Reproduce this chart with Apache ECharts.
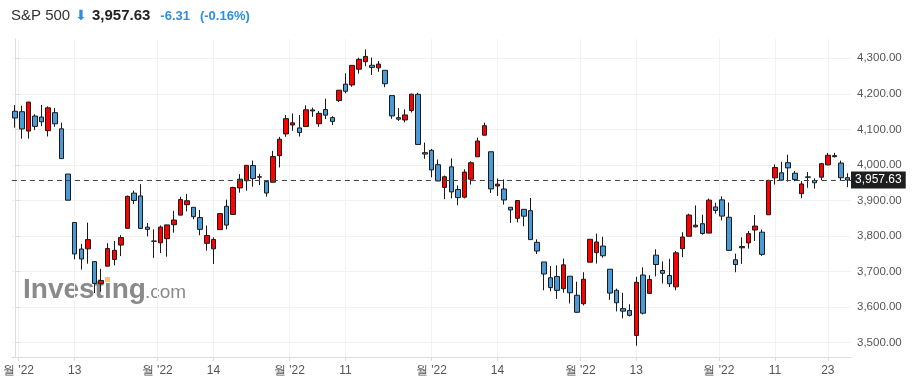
<!DOCTYPE html>
<html><head><meta charset="utf-8">
<script src="https://cdn.jsdelivr.net/npm/echarts@6/dist/echarts.min.js"></script>
<style>html,body{margin:0;padding:0;background:#fff}#c{width:913px;height:383px}</style>
</head><body><div id="c"></div>
<script>
// S&P 500 daily candles, 2022-05-31 .. 2022-11-29
const dates = ["05-31","06-01","06-02","06-03","06-06","06-07","06-08","06-09","06-10","06-13","06-14","06-15","06-16","06-17","06-21","06-22","06-23","06-24","06-27","06-28","06-29","06-30","07-01",
"07-05","07-06","07-07","07-08","07-11","07-12","07-13","07-14","07-15","07-18","07-19","07-20","07-21","07-22","07-25","07-26","07-27","07-28","07-29",
"08-01","08-02","08-03","08-04","08-05","08-08","08-09","08-10","08-11","08-12","08-15","08-16","08-17","08-18","08-19","08-22","08-23","08-24","08-25","08-26","08-29","08-30","08-31",
"09-01","09-02","09-06","09-07","09-08","09-09","09-12","09-13","09-14","09-15","09-16","09-19","09-20","09-21","09-22","09-23","09-26","09-27","09-28","09-29","09-30",
"10-03","10-04","10-05","10-06","10-07","10-10","10-11","10-12","10-13","10-14","10-17","10-18","10-19","10-20","10-21","10-24","10-25","10-26","10-27","10-28","10-31",
"11-01","11-02","11-03","11-04","11-07","11-08","11-09","11-10","11-11","11-14","11-15","11-16","11-17","11-18","11-21","11-22","11-23","11-25","11-28","11-29"];

const open = [4151.09,4149.78,4095.41,4137.57,4134.72,4096.47,4147.12,4101.65,3974.39,3838.15,3763.52,3764.05,3728.18,3665.90,3715.31,3733.89,3774.71,3821.75,3920.76,3913.00,3825.09,3785.99,3781.00,
3792.61,3831.98,3858.85,3888.26,3880.94,3851.95,3779.67,3763.99,3818.00,3883.79,3860.73,3935.32,3955.47,3998.43,3965.72,3953.22,3951.43,4026.13,4087.33,
4112.38,4104.21,4107.96,4154.85,4115.87,4155.93,4133.11,4181.02,4227.40,4225.02,4269.37,4290.46,4280.40,4273.13,4266.31,4195.08,4133.09,4126.55,4153.26,4198.74,4034.58,4041.25,4000.67,
3936.73,3994.66,3930.89,3909.43,3959.94,4022.94,4083.67,4037.12,3940.73,3932.41,3880.95,3849.91,3875.23,3871.40,3782.36,3727.14,3682.72,3686.44,3651.94,3687.01,3633.48,
3609.78,3726.46,3753.25,3771.97,3706.74,3647.51,3595.86,3590.83,3520.37,3690.41,3638.65,3746.26,3703.11,3689.05,3657.10,3764.53,3799.44,3825.97,3834.69,3808.26,3881.85,
3901.79,3852.90,3733.25,3766.98,3780.71,3817.02,3810.94,3859.89,3963.72,3977.97,4006.41,3976.82,3919.26,3966.39,3956.23,3965.51,4000.30,4023.34,4005.36,3964.19];

const high = [4168.34,4166.54,4177.51,4142.67,4168.78,4164.86,4160.14,4119.10,3974.39,3838.15,3778.18,3837.56,3728.18,3707.71,3779.65,3785.99,3802.58,3913.65,3927.72,3945.86,3836.50,3818.99,3829.82,
3832.19,3870.91,3910.63,3918.50,3880.94,3873.41,3829.44,3796.41,3863.62,3902.44,3938.52,3974.13,3999.29,4012.44,3975.30,3953.22,4039.56,4078.95,4140.15,
4144.95,4140.47,4167.66,4161.29,4151.58,4186.62,4137.30,4211.03,4257.91,4280.47,4301.79,4325.28,4302.18,4292.53,4266.31,4195.08,4159.77,4156.56,4200.54,4203.04,4062.99,4044.98,4015.37,
3970.23,4018.43,3942.55,3987.89,4010.50,4076.81,4119.28,4037.12,3961.94,3959.14,3880.95,3900.45,3876.01,3907.07,3790.78,3727.14,3715.67,3717.53,3736.74,3687.01,3671.44,
3698.35,3791.92,3806.91,3797.93,3706.74,3652.17,3640.66,3608.34,3685.41,3712.00,3689.73,3762.79,3728.58,3736.00,3757.89,3810.74,3862.85,3886.15,3859.95,3905.42,3893.73,
3911.79,3894.44,3750.59,3796.34,3813.95,3859.40,3818.20,3958.33,4001.48,4008.97,4028.84,3983.09,3954.33,3979.89,3962.00,4005.88,4033.78,4034.02,4012.27,3976.77];

const low = [4104.88,4073.85,4074.37,4098.67,4109.18,4080.19,4107.20,4017.17,3900.16,3734.30,3705.68,3722.30,3639.77,3643.41,3715.31,3717.69,3743.52,3821.75,3889.66,3820.14,3799.02,3738.67,3752.10,
3742.06,3809.37,3858.85,3869.34,3847.22,3802.36,3759.07,3721.56,3817.18,3818.63,3860.73,3922.03,3927.64,3938.85,3943.46,3910.74,3951.43,3992.97,4079.22,
4096.02,4079.81,4107.96,4135.42,4107.31,4128.97,4112.09,4177.26,4201.41,4219.78,4256.90,4277.77,4253.08,4261.98,4218.70,4129.86,4124.03,4119.97,4147.59,4057.66,4017.42,3965.21,3954.53,
3903.65,3906.21,3886.75,3906.03,3944.81,4022.94,4083.67,3921.37,3912.95,3888.28,3837.08,3838.50,3827.54,3789.49,3749.45,3647.47,3644.76,3623.29,3640.61,3610.40,3584.13,
3604.93,3726.46,3722.66,3739.22,3620.73,3588.10,3568.45,3573.86,3491.58,3579.68,3638.65,3686.53,3666.51,3656.44,3647.42,3740.65,3799.44,3824.07,3803.79,3808.26,3863.18,
3843.80,3758.68,3698.15,3721.71,3764.70,3786.28,3744.22,3859.89,3944.82,3956.40,3953.17,3954.34,3906.54,3935.98,3933.34,3956.88,3998.66,4020.76,3955.77,3937.65];

const close = [4132.15,4101.23,4176.82,4108.54,4121.43,4160.68,4115.77,4017.82,3900.86,3749.63,3735.48,3789.99,3666.77,3674.84,3764.79,3759.89,3795.73,3911.74,3900.11,3821.55,3818.83,3785.38,3825.33,
3831.39,3845.08,3902.62,3899.38,3854.43,3818.80,3801.78,3790.38,3863.16,3830.85,3936.69,3959.90,3998.95,3961.63,3966.84,3921.05,4023.61,4072.43,4130.29,
4118.63,4091.19,4155.17,4151.94,4145.19,4140.06,4122.47,4210.24,4207.27,4280.15,4297.14,4305.20,4274.04,4283.74,4228.48,4137.99,4128.73,4140.77,4199.12,4057.66,4030.61,3986.16,3955.00,
3966.85,3924.26,3908.19,3979.87,4006.18,4067.36,4110.41,3932.69,3946.01,3901.35,3873.33,3899.89,3855.93,3789.93,3757.99,3693.23,3655.04,3647.29,3719.04,3640.47,3585.62,
3678.43,3790.93,3783.28,3744.52,3639.66,3612.39,3588.84,3577.03,3669.91,3583.07,3677.95,3719.98,3695.16,3665.78,3752.75,3797.34,3859.11,3830.60,3807.30,3901.06,3871.98,
3856.10,3759.69,3719.89,3770.55,3806.80,3828.11,3748.57,3956.37,3992.93,3957.25,3991.73,3958.79,3946.56,3965.34,3949.94,4003.58,4027.26,4026.12,3963.94,3957.63];

const yTicks = [3500,3600,3700,3800,3900,4000,4100,4200,4300];
// x tick positions (in candle-index units) and their labels
const xTickIdx = [0.5, 9, 21.5, 30, 41.5, 50, 63, 73, 85.5, 94, 106.5, 115, 123];
const xTickLabels = ["월 '22","13","월 '22","14","월 '22","11","월 '22","14","월 '22","13","월 '22","11","23"];
const lastPrice = 3957.63;
const titleName = "S&P 500", titlePrice = "3,957.63", titleChange = "-6.31", titlePct = "(-0.16%)";

const FONT = "'Liberation Sans', Arial, sans-serif";
const UP = '#ff0000', DOWN = '#4a9ad8';
const candles = dates.map((d, i) => [open[i], close[i], low[i], high[i]]);
const fmt = v => v.toLocaleString('en-US', {minimumFractionDigits: 2, maximumFractionDigits: 2});

const chart = echarts.init(document.getElementById('c'), null, {renderer: 'canvas'});
chart.setOption({
  animation: false,
  backgroundColor: '#fff',
  title: {
    left: 6, top: 2,
    text: '{a|' + titleName + '} {i|⬇} {b|' + titlePrice + '}  {c|' + titleChange + '}  {c|' + titlePct + '}',
    textStyle: {
      fontWeight: 'normal',
      rich: {
        a: {fontSize: 15, color: '#333', fontWeight: 'normal', fontFamily: FONT},
        i: {fontSize: 14, color: '#2f8fdd', fontWeight: 'normal', fontFamily: 'DejaVu Sans'},
        b: {fontSize: 15, color: '#222', fontWeight: 'bold', fontFamily: FONT},
        c: {fontSize: 13, color: '#2f8fdd', fontWeight: 'bold', fontFamily: FONT}
      }
    }
  },
  grid: {left: 8.7, right: 62, top: 39, bottom: 26},
  xAxis: [
    {type: 'category', data: dates, show: false, boundaryGap: true},
    {type: 'value', min: -0.5, max: dates.length - 0.5, position: 'bottom',
     axisLine: {show: true, lineStyle: {color: '#dcdcdc'}},
     axisTick: {show: true, customValues: xTickIdx, length: 4, lineStyle: {color: '#dcdcdc'}},
     axisLabel: {customValues: xTickIdx, color: '#555', fontSize: 12, fontFamily: FONT, margin: 8,
       formatter: v => { const k = xTickIdx.indexOf(v); return k >= 0 ? xTickLabels[k] : ''; }},
     splitLine: {show: true, lineStyle: {color: '#f2f2f2'}}}
  ],
  yAxis: {
    type: 'value', position: 'right', min: 3459.8, max: 4354.3, scale: true,
    axisLine: {show: true, lineStyle: {color: '#dcdcdc'}},
    axisTick: {show: true, customValues: yTicks, length: 5, lineStyle: {color: '#dcdcdc'}},
    axisLabel: {customValues: yTicks, color: '#555', fontSize: 11.5, fontFamily: FONT, margin: 6, formatter: fmt},
    splitLine: {show: true, lineStyle: {color: '#f2f2f2'}}
  },
  graphic: [
    {type: 'text', z: 0, left: 23, top: 276, style: {text: 'Investing', font: 'bold 28px ' + FONT, fill: '#8a8a8a'}},
    {type: 'rect', z: 0, shape: {x: 105, y: 277, width: 5, height: 5}, style: {fill: '#f7c27e'}},
    {type: 'text', z: 0, left: 145, top: 283, style: {text: '.com', font: '19px ' + FONT, fill: '#8a8a8a'}}
  ],
  series: [{
    type: 'candlestick', xAxisIndex: 0, yAxisIndex: 0, data: candles, barWidth: 5, z: 3,
    itemStyle: {color: UP, color0: DOWN, borderColor: '#1a1a1a', borderColor0: '#1a1a1a', borderWidth: 1},
    markLine: {
      silent: true, symbol: ['none', 'none'], animation: false,
      lineStyle: {color: '#444', type: [5, 4], width: 1},
      label: {show: true, position: 'end', distance: 0, formatter: () => fmt(lastPrice),
        backgroundColor: '#1e1e1e', color: '#fff', fontSize: 12, fontFamily: FONT, padding: [3, 4, 2, 4]},
      data: [{yAxis: lastPrice}]
    }
  }]
});
</script></body></html>
